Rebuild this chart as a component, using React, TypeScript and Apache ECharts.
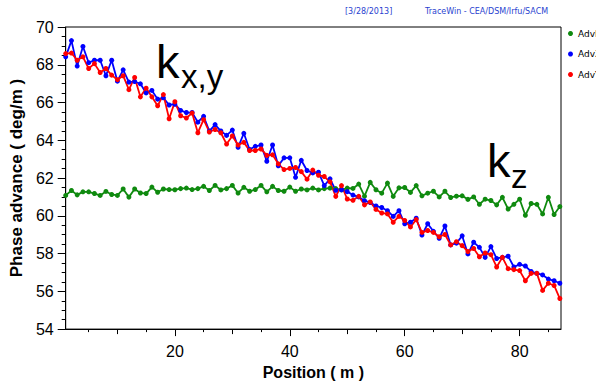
import React, { useEffect, useRef } from 'react';
import * as echarts from 'echarts';

const positions = [
  1, 2, 3, 4, 5, 6, 7, 8, 9, 10, 11, 12, 13, 14, 15, 16, 17, 18, 19, 20,
  21, 22, 23, 24, 25, 26, 27, 28, 29, 30, 31, 32, 33, 34, 35, 36, 37, 38, 39, 40,
  41, 42, 43, 44, 45, 46, 47, 48, 49, 50, 51, 52, 53, 54, 55, 56, 57, 58, 59, 60,
  61, 62, 63, 64, 65, 66, 67, 68, 69, 70, 71, 72, 73, 74, 75, 76, 77, 78, 79, 80,
  81, 82, 83, 84, 85, 86, 87,
];

const advL = [
  61.08, 61.34, 61.11, 61.27, 61.27, 61.18, 61.08, 61.29, 61.13, 61.08,
  61.42, 60.99, 61.42, 61.21, 61.18, 61.52, 61.25, 61.42, 61.39, 61.38,
  61.44, 61.47, 61.39, 61.44, 61.56, 61.34, 61.61, 61.37, 61.44, 61.61,
  61.21, 61.51, 61.30, 61.39, 61.61, 61.27, 61.56, 61.34, 61.30, 61.52,
  61.30, 61.42, 61.37, 61.47, 61.37, 61.44, 61.47, 61.44, 61.37, 61.47,
  61.45, 61.68, 61.04, 61.77, 61.38, 61.20, 61.73, 61.03, 61.48, 61.50,
  61.24, 61.60, 61.06, 61.20, 61.30, 61.00, 61.30, 60.97, 61.04, 61.06,
  60.87, 61.00, 60.61, 60.88, 60.81, 60.58, 60.98, 60.36, 60.61, 60.88,
  60.03, 60.65, 60.61, 60.10, 60.98, 60.07, 60.49,
];

const advX = [
  68.42, 69.28, 67.93, 68.97, 68.11, 68.24, 68.24, 67.42, 68.24, 67.13,
  67.73, 67.08, 67.11, 66.99, 66.51, 66.64, 66.18, 66.25, 65.87, 65.91,
  65.58, 65.47, 65.47, 64.96, 65.27, 64.49, 64.83, 64.49, 64.26, 64.54,
  63.63, 64.37, 63.51, 63.68, 63.75, 62.89, 63.75, 62.65, 63.07, 63.07,
  62.04, 62.94, 62.40, 62.27, 62.31, 61.60, 61.96, 61.35, 61.38, 61.28,
  61.10, 61.00, 60.80, 60.70, 60.52, 60.44, 60.27, 59.97, 60.27, 59.58,
  59.66, 59.87, 58.98, 59.58, 59.18, 58.81, 59.46, 58.46, 58.55, 58.94,
  57.98, 58.60, 58.33, 57.80, 58.37, 57.74, 57.80, 57.86, 57.29, 57.43,
  57.34, 57.05, 56.95, 56.87, 56.65, 56.56, 56.43,
];

const advY = [
  68.59, 68.62, 68.24, 68.42, 67.80, 68.06, 67.59, 67.80, 67.45, 67.21,
  67.42, 66.68, 67.33, 66.30, 66.76, 66.30, 65.83, 66.42, 65.14, 66.04,
  65.30, 65.18, 65.44, 64.40, 65.09, 64.44, 64.57, 64.40, 63.80, 64.23,
  63.75, 63.89, 63.46, 63.46, 63.54, 63.20, 63.23, 62.75, 62.45, 62.51,
  62.56, 62.34, 61.94, 62.42, 62.15, 62.08, 61.80, 61.03, 61.60, 60.89,
  60.82, 61.03, 60.58, 60.73, 60.34, 60.15, 60.10, 59.66, 59.97, 59.75,
  59.41, 59.80, 59.12, 59.22, 59.12, 58.89, 59.01, 58.46, 58.63, 58.42,
  58.11, 58.27, 57.83, 58.03, 57.94, 57.29, 57.80, 57.20, 57.15, 57.10,
  56.56, 56.95, 56.95, 56.05, 56.43, 56.31, 55.62,
];

const seriesNames = ['AdvL', 'AdvX', 'AdvY'];
const xLabelTicks = [20, 40, 60, 80];
const xMidTicks = [10, 30, 50, 70];
const xMinorTicks = [5, 15, 25, 35, 45, 55, 65, 75, 85];

const X_MIN = 1;
const X_MAX = 87.2;

export default function App() {
  const ref = useRef<HTMLDivElement>(null);

  useEffect(() => {
    document.body.style.margin = '0';
    if (!ref.current) return;
    const chart = echarts.init(ref.current, undefined, { renderer: 'svg' });

    const baseX = (customTicks: number[], len: number, withLabels: boolean, showLine: boolean) => ({
      type: 'value',
      min: X_MIN,
      max: X_MAX,
      position: 'bottom',
      offset: 0,
      axisLine: { show: showLine, lineStyle: { color: '#000', width: 1 } },
      axisTick: {
        show: true,
        inside: false,
        length: len,
        customValues: customTicks,
        lineStyle: { color: '#000', width: 1 },
      },
      axisLabel: withLabels
        ? {
            show: true,
            customValues: xLabelTicks,
            color: '#000',
            fontSize: 16,
            fontFamily: 'Liberation Sans, Arial, sans-serif',
            margin: 14,
          }
        : { show: false },
      splitLine: { show: false },
    });

    const mk = (arr: number[]) => positions.map((x, i) => [x, arr[i]]);

    const colors = ['#0f8a0f', '#0000ff', '#ff0000'];

    chart.setOption({
      animation: false,
      backgroundColor: '#fff',
      grid: {
        left: 62,
        right: 35,
        top: 27,
        bottom: 48,
        show: true,
        borderColor: '#000',
        borderWidth: 1,
        containLabel: false,
      },
      legend: {
        orient: 'vertical',
        left: 568,
        top: 27.5,
        padding: 0,
        itemGap: 8.5,
        itemWidth: 5,
        itemHeight: 5,
        icon: 'circle',
        data: seriesNames,
        textStyle: {
          color: '#000',
          fontSize: 9,
          lineHeight: 12,
          fontFamily: 'DejaVu Sans, sans-serif',
        },
      },
      xAxis: [
        {
          ...baseX(xLabelTicks, 7, true, true),
          name: 'Position ( m )',
          nameLocation: 'middle',
          nameGap: 34,
          nameTextStyle: {
            color: '#000',
            fontSize: 16,
            fontWeight: 'bold',
            fontFamily: 'Liberation Sans, Arial, sans-serif',
          },
        },
        baseX(xMidTicks, 5, false, false),
        baseX(xMinorTicks, 3, false, false),
      ],
      yAxis: {
        type: 'value',
        min: 54,
        max: 70,
        interval: 2,
        name: 'Phase advance ( deg/m )',
        nameLocation: 'middle',
        nameGap: 33,
        nameTextStyle: {
          color: '#000',
          fontSize: 17,
          fontWeight: 'bold',
          fontFamily: 'Liberation Sans, Arial, sans-serif',
        },
        axisLine: { show: true, lineStyle: { color: '#000', width: 1 } },
        axisTick: { show: true, length: 8, lineStyle: { color: '#000' } },
        minorTick: { show: true, splitNumber: 4, length: 4, lineStyle: { color: '#000' } },
        axisLabel: {
          color: '#000',
          fontSize: 16,
          fontFamily: 'Liberation Sans, Arial, sans-serif',
          margin: 12,
        },
        splitLine: { show: false },
        minorSplitLine: { show: false },
      },
      series: [advL, advX, advY].map((arr, i) => ({
        name: seriesNames[i],
        type: 'line',
        xAxisIndex: 0,
        data: mk(arr),
        symbol: 'circle',
        symbolSize: 5,
        showSymbol: true,
        lineStyle: { color: colors[i], width: 1.8 },
        itemStyle: { color: colors[i] },
        emphasis: { disabled: true },
      })),
      graphic: [
        {
          type: 'text',
          x: 345,
          y: 11,
          style: {
            text: '[3/28/2013]',
            fill: '#2a3fd0',
            font: '8px "DejaVu Sans", sans-serif',
            verticalAlign: 'middle',
          },
        },
        {
          type: 'text',
          x: 425,
          y: 11,
          style: {
            text: 'TraceWin - CEA/DSM/Irfu/SACM',
            fill: '#2a3fd0',
            font: '8px "DejaVu Sans", sans-serif',
            verticalAlign: 'middle',
          },
        },
        {
          type: 'text',
          x: 156,
          y: 61,
          style: {
            text: 'k',
            fill: '#000',
            font: '47px "Liberation Sans", Arial, sans-serif',
            verticalAlign: 'middle',
          },
        },
        {
          type: 'text',
          x: 181,
          y: 76,
          style: {
            text: 'x,y',
            fill: '#000',
            font: '33px "Liberation Sans", Arial, sans-serif',
            verticalAlign: 'middle',
          },
        },
        {
          type: 'text',
          x: 487,
          y: 160,
          style: {
            text: 'k',
            fill: '#000',
            font: '47px "Liberation Sans", Arial, sans-serif',
            verticalAlign: 'middle',
          },
        },
        {
          type: 'text',
          x: 511,
          y: 176,
          style: {
            text: 'z',
            fill: '#000',
            font: '33px "Liberation Sans", Arial, sans-serif',
            verticalAlign: 'middle',
          },
        },
      ],
    });

    return () => {
      chart.dispose();
    };
  }, []);

  return <div ref={ref} style={{ width: 596, height: 385 }} />;
}
